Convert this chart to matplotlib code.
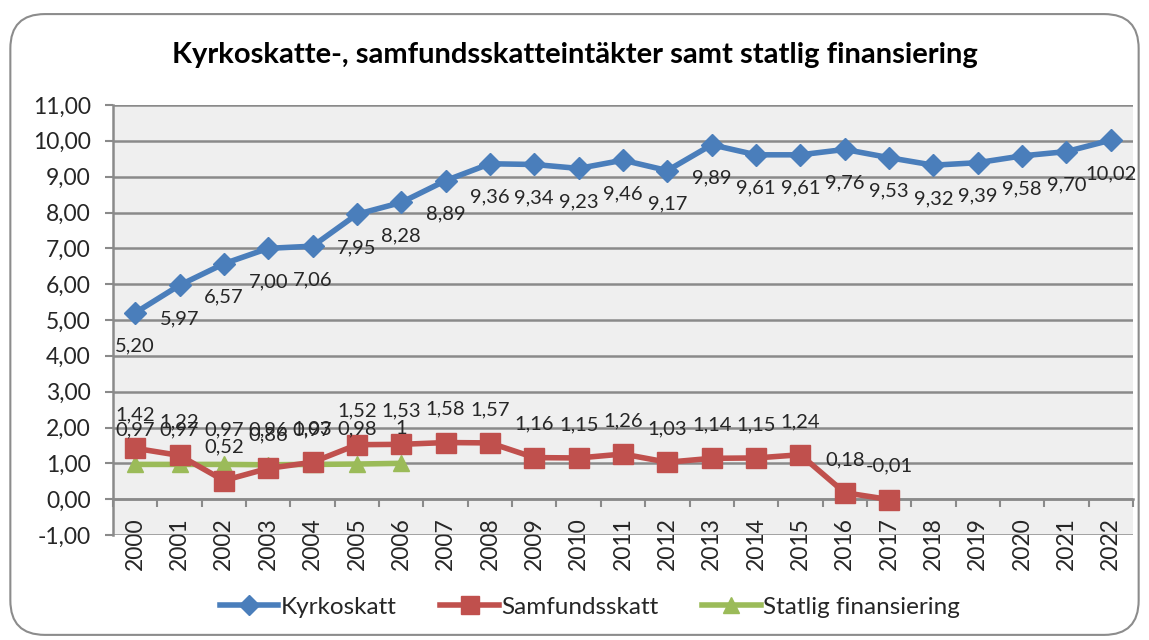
import numpy as np
import matplotlib.pyplot as plt
from matplotlib.patches import FancyBboxPatch
from matplotlib.lines import Line2D
from matplotlib.ticker import FixedLocator, FuncFormatter

years = [str(y) for y in range(2000, 2023)]
kyrkoskatt = [5.20, 5.97, 6.57, 7.00, 7.06, 7.95, 8.28, 8.89, 9.36, 9.34, 9.23, 9.46,
              9.17, 9.89, 9.61, 9.61, 9.76, 9.53, 9.32, 9.39, 9.58, 9.70, 10.02]
samfundsskatt = [1.42, 1.22, 0.52, 0.86, 1.03, 1.52, 1.53, 1.58, 1.57, 1.16, 1.15, 1.26,
                 1.03, 1.14, 1.15, 1.24, 0.18, -0.01]
statlig = [0.97, 0.97, 0.97, 0.96, 0.97, 0.98, 1.00]

plt.rcParams['font.family'] = ['Lato', 'DejaVu Sans']

fig = plt.figure(figsize=(11.49, 6.4), dpi=100)
fig.patch.set_facecolor('white')
border = FancyBboxPatch((0.009, 0.008), 0.982, 0.97, boxstyle="round,pad=0,rounding_size=0.03",
                        transform=fig.transFigure, facecolor='none', edgecolor='#8c8c8c',
                        linewidth=1.5, mutation_aspect=1149 / 640, zorder=-1)
fig.patches.append(border)

ax = fig.add_axes([113 / 1149, 1 - 535 / 640, (1133 - 113) / 1149, (535 - 105) / 640])
ax.set_facecolor('#efefef')

x = np.arange(len(years))

def fmt(v):
    if v == 1.0:
        return "1"
    return f"{v:.2f}".replace('.', ',')

ax.plot(x, kyrkoskatt, color='#4a7ebb', lw=4, marker='D', ms=11, zorder=5)
ax.plot(x[:len(samfundsskatt)], samfundsskatt, color='#c0504d', lw=4, marker='s', ms=14, zorder=4)
ax.plot(x[:len(statlig)], statlig, color='#9bbb59', lw=4, marker='^', ms=12, zorder=3)

lbl = dict(ha='center', va='center', fontsize=14.5, color='#262626', zorder=6,
           textcoords='offset points')
for xi, v in zip(x, kyrkoskatt):
    ax.annotate(fmt(v), (xi, v), xytext=(0, -24), **lbl)
for xi, v in zip(x, samfundsskatt):
    ax.annotate(fmt(v), (xi, v), xytext=(0, 24), **lbl)
for xi, v in zip(x, statlig):
    ax.annotate(fmt(v), (xi, v), xytext=(0, 25), **lbl)

ax.set_xlim(-0.5, len(years) - 0.5)
ax.set_ylim(-1, 11)
ax.yaxis.set_major_locator(FixedLocator(np.arange(-1, 12)))
ax.yaxis.set_major_formatter(FuncFormatter(lambda v, p: f"{v:.2f}".replace('.', ',')))
ax.grid(axis='y', color='#8a8a8a', lw=1.8)
ax.set_axisbelow(True)

ax.spines['top'].set_visible(False)
ax.spines['right'].set_visible(False)
ax.spines['bottom'].set_position(('data', 0))
ax.spines['bottom'].set_color('#8a8a8a')
ax.spines['bottom'].set_linewidth(1.8)
ax.spines['left'].set_color('#8a8a8a')
ax.spines['left'].set_linewidth(1.8)

ax.xaxis.set_major_locator(FixedLocator(np.arange(-0.5, len(years), 1)))
ax.xaxis.set_major_formatter(FuncFormatter(lambda v, p: ""))
ax.xaxis.set_minor_locator(FixedLocator(x))
ax.set_xticklabels(years, minor=True, rotation=90, fontsize=16.5, color='#262626')
ax.tick_params(axis='x', which='major', length=6, direction='out', color='#8a8a8a', width=1.5)
ax.tick_params(axis='x', which='minor', length=0, pad=13)
ax.tick_params(axis='y', length=6, color='#8a8a8a', width=1.5, labelsize=16.5,
               labelcolor='#262626', pad=10)

fig.text(0.5, 1 - 55 / 640, "Kyrkoskatte-, samfundsskatteintäkter samt statlig finansiering",
         ha='center', va='center', fontsize=21, fontweight='bold')

handles = [
    Line2D([], [], color='#4a7ebb', lw=4, marker='D', ms=10),
    Line2D([], [], color='#c0504d', lw=4, marker='s', ms=13),
    Line2D([], [], color='#9bbb59', lw=4, marker='^', ms=11),
]
fig.legend(handles, ["Kyrkoskatt", "Samfundsskatt", "Statlig finansiering"], ncol=3,
           loc='center', bbox_to_anchor=(590 / 1149, 1 - 607 / 640), frameon=False,
           fontsize=17.5, labelcolor='#262626',
           handlelength=2.4, columnspacing=1.8, handletextpad=0.1)

fig.savefig('out.png', dpi=100)
